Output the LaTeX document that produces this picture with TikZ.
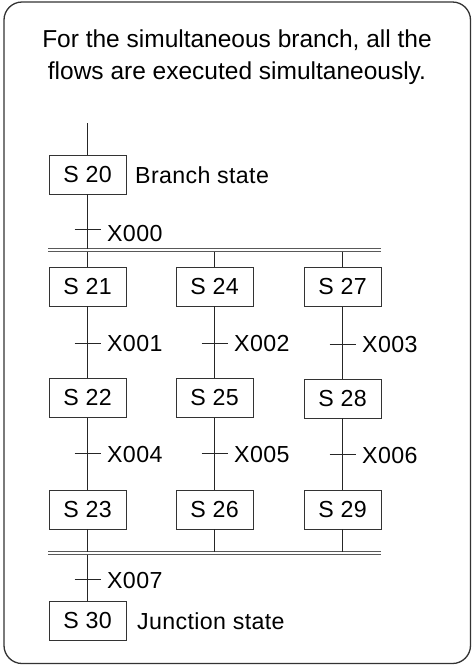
\documentclass[tikz,border=0pt]{standalone}
\usepackage{fontspec}
\setmainfont{Liberation Sans}
\newfontfamily\diagfont[LetterSpace=1.5]{Liberation Sans}
\begin{document}
\begin{tikzpicture}[x=1pt,y=-1pt,
  stepbox/.style={draw=black!80, line width=0.9pt, minimum width=77pt, minimum height=39pt, inner sep=0pt, font=\diagfont\fontsize{23.2}{26}\selectfont},
  lab/.style={anchor=base west, inner sep=0pt, font=\diagfont\fontsize{23.2}{26}\selectfont},
  ln/.style={line width=0.9pt, draw=black!85},
  bar/.style={line width=0.9pt, draw=black!65}]
\useasboundingbox (0,0) rectangle (473,665);
\draw[line width=1.3pt, draw=black!80, rounded corners=18pt] (4,2) rectangle (470.5,663.5);
\node[align=center, inner sep=0pt, font=\fontsize{24.5}{32}\selectfont] (title) at (237,57) {For the simultaneous branch, all the\\flows are executed simultaneously.};
% branch state
\coordinate (top) at (87.5,123);
\node[stepbox] (s20) at (87.5,174.5) {S 20};
\node[lab] (bs) at (135,183) {Branch state};
% bars
\coordinate (b1u) at (48,248.5);
\coordinate (b1d) at (48,251.5);
\coordinate (b2u) at (48,551.5);
\coordinate (b2d) at (48,554.5);
\draw[bar] (b1u) -- (381,248.5);
\draw[bar] (b1d) -- (381,251.5);
\draw[bar] (b2u) -- (381,551.5);
\draw[bar] (b2d) -- (381,554.5);
\draw[ln] (top) -- (s20.north);
\draw[ln] (s20.south) -- (s20.south |- b1u);
\coordinate (t0) at (87.5,229);
\draw[ln] ([xshift=-13pt]t0) -- ([xshift=13pt]t0);
\node[lab] (x0) at (107,241.7) {X000};
% columns
\node[stepbox] (s21) at (87.5,286.5) {S 21};
\node[stepbox] (s24) at (214.5,286.5) {S 24};
\node[stepbox] (s27) at (342.5,287) {S 27};
\node[stepbox] (s22) at (87.5,398) {S 22};
\node[stepbox] (s25) at (214.5,398) {S 25};
\node[stepbox] (s28) at (342.5,398.5) {S 28};
\node[stepbox] (s23) at (87.5,509.5) {S 23};
\node[stepbox] (s26) at (214.5,509.5) {S 26};
\node[stepbox] (s29) at (342.5,509.5) {S 29};
\foreach \a/\b/\c/\ta/\tb/\la/\lb/\ya/\yb in {s21/s22/s23/t1/t4/X001/X004/343/453, s24/s25/s26/t2/t5/X002/X005/343/453, s27/s28/s29/t3/t6/X003/X006/344/454}{
  \draw[ln] (\a.north |- b1d) -- (\a.north);
  \draw[ln] (\a.south) -- (\b.north);
  \draw[ln] (\b.south) -- (\c.north);
  \draw[ln] (\c.south) -- (\c.south |- b2u);
  \coordinate (\ta) at (\a.south |- 0,\ya);
  \coordinate (\tb) at (\b.south |- 0,\yb);
  \draw[ln] ([xshift=-13pt]\ta) -- ([xshift=13pt]\ta);
  \draw[ln] ([xshift=-13pt]\tb) -- ([xshift=13pt]\tb);
  \node[lab] at ([xshift=19.5pt,yshift=-8.6pt]\ta) {\la};
  \node[lab] at ([xshift=19.5pt,yshift=-9pt]\tb) {\lb};
}
% junction
\node[stepbox] (s30) at (87.5,621) {S 30};
\node[lab] (js) at (137,629.5) {Junction state};
\draw[ln] (s30.north |- b2d) -- (s30.north);
\coordinate (t7) at (87.5,579);
\draw[ln] ([xshift=-13pt]t7) -- ([xshift=13pt]t7);
\node[lab] (x7) at (107,588.3) {X007};
\end{tikzpicture}
\end{document}
